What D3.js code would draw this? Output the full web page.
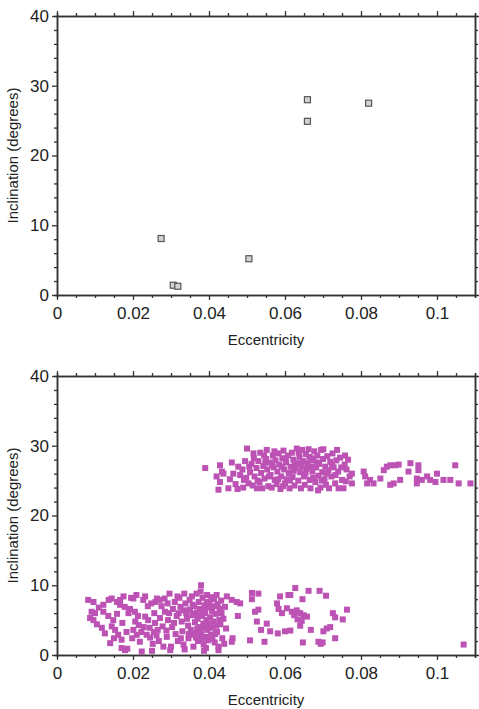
<!DOCTYPE html>
<html>
<head>
<meta charset="utf-8">
<script src="https://cdn.jsdelivr.net/npm/d3@7"></script>
<style>
  body { margin: 0; background: #fff; }
  svg { display: block; font-family: "Liberation Sans", Arial, sans-serif; }
</style>
</head>
<body>
<div id="chart"></div>
<script>
// observed objects (top panel): [eccentricity, inclination]
const observed = [
  [0.0274, 8.1], [0.0306, 1.4], [0.0318, 1.25], [0.0505, 5.2],
  [0.0659, 28.0], [0.0659, 24.9], [0.0820, 27.5]
];

// simulated population, low-inclination group
const simLow = [
  [0.0082,7.9],[0.0096,7.6],[0.0091,6.2],[0.0100,6.0],[0.0087,5.3],[0.0096,5.0],[0.0110,6.8],[0.0105,4.4],[0.0118,3.9],
  [0.0122,7.2],[0.0122,6.2],[0.0126,3.1],[0.0140,1.7],[0.0144,8.1],[0.0148,5.0],[0.0144,4.1],[0.0153,3.6],[0.0135,5.6],[0.0158,7.6],[0.0150,2.4],
  [0.0161,2.9],[0.0166,7.9],[0.0175,8.4],[0.0166,7.2],[0.0178,6.9],[0.0188,6.0],[0.0192,6.6],[0.0170,2.2],[0.0170,1.0],[0.0179,0.7],[0.0185,0.9],[0.0183,3.3],[0.0195,8.2],[0.0172,4.6],
  [0.0201,8.1],[0.0209,8.6],[0.0205,6.2],[0.0213,5.6],[0.0201,3.6],[0.0210,2.9],[0.0222,3.3],[0.0227,7.9],[0.0232,8.4],[0.0232,5.5],[0.0240,5.0],[0.0236,2.9],[0.0223,0.5],[0.0245,2.5],[0.0215,4.3],[0.0228,4.0],[0.0218,1.9],
  [0.0248,7.4],[0.0263,8.1],[0.0256,6.0],[0.0258,4.6],[0.0255,3.3],[0.0262,2.8],[0.0270,7.9],[0.0275,7.0],[0.0271,5.3],[0.0278,4.1],[0.0280,1.2],[0.0268,2.0],[0.0252,1.6],[0.0250,0.6],[0.0265,3.6],
  [0.0284,6.2],[0.0291,7.4],[0.0292,5.0],[0.0289,2.6],[0.0296,8.8],[0.0300,1.2],[0.0303,4.0],[0.0305,6.6],[0.0310,7.6],[0.0312,3.0],[0.0315,5.6],[0.0318,2.0],[0.0288,3.5],[0.0298,0.7],
  [0.0322,8.2],[0.0325,6.9],[0.0328,4.8],[0.0330,3.4],[0.0333,1.5],[0.0335,8.8],[0.0338,7.4],[0.0340,6.0],[0.0342,5.2],[0.0345,4.2],[0.0346,2.4],[0.0349,7.9],[0.0350,6.5],[0.0352,3.6],[0.0355,8.4],[0.0356,5.7],[0.0358,2.9],[0.0326,2.4],[0.0336,0.8],[0.0359,1.2],
  [0.0361,7.0],[0.0363,4.7],[0.0365,3.2],[0.0367,8.8],[0.0368,6.1],[0.0370,5.2],[0.0371,2.0],[0.0373,7.6],[0.0375,4.0],[0.0376,6.6],[0.0378,9.1],[0.0379,10.0],[0.0380,3.0],[0.0382,5.6],[0.0383,8.2],[0.0385,4.5],[0.0386,1.5],[0.0388,7.1],[0.0390,6.0],[0.0391,2.6],[0.0393,5.0],[0.0395,8.6],[0.0396,3.6],[0.0398,6.8],[0.0399,4.2],[0.0381,2.2],[0.0392,1.0],[0.0369,3.8],[0.0387,0.6],
  [0.0401,7.6],[0.0403,5.4],[0.0405,2.9],[0.0406,8.3],[0.0408,6.3],[0.0410,3.9],[0.0412,4.8],[0.0414,7.0],[0.0415,1.8],[0.0418,5.9],[0.0420,8.6],[0.0421,3.3],[0.0425,0.7],[0.0425,1.2],[0.0428,6.6],[0.0430,4.4],[0.0432,7.8],[0.0435,2.4],[0.0438,5.2],[0.0442,6.9],[0.0447,8.4],[0.0445,3.8],[0.0440,1.6],
  [0.0334,6.4],[0.0347,3.0],[0.0357,7.2],[0.0362,5.9],[0.0366,2.5],[0.0374,5.6],[0.0377,3.4],[0.0384,6.4],[0.0389,3.9],[0.0394,7.6],[0.0397,2.1],[0.0402,4.5],[0.0404,6.9],[0.0409,2.3],[0.0413,8.0],[0.0416,3.0],[0.0419,4.2],[0.0423,7.3],[0.0427,5.0],[0.0433,6.0],
  [0.0198,2.4],[0.0206,4.8],[0.0239,7.0],[0.0244,3.9],[0.0259,7.6],[0.0283,8.1],[0.0295,6.0],[0.0308,4.6],[0.0320,6.0],[0.0317,8.4],[0.0136,7.9],[0.0158,5.9],
  [0.0460,7.9],[0.0473,7.6],[0.0482,7.4],[0.0476,5.6],[0.0460,1.9],[0.0462,2.4],[0.0513,8.9],[0.0530,8.8],[0.0513,8.0],[0.0521,6.2],[0.0530,6.5],[0.0526,4.8],[0.0552,4.5],[0.0537,3.6],[0.0561,3.4],
  [0.0579,7.4],[0.0587,8.4],[0.0583,6.6],[0.0592,6.0],[0.0605,6.7],[0.0618,6.2],[0.0609,8.6],[0.0581,3.1],[0.0600,3.4],[0.0508,2.1],[0.0546,1.9],
  [0.0627,9.6],[0.0662,9.2],[0.0691,9.2],[0.0708,8.5],[0.0646,8.0],[0.0614,8.6],[0.0631,6.4],[0.0624,5.7],[0.0640,6.0],[0.0649,5.7],[0.0658,5.5],[0.0633,5.1],[0.0644,4.9],[0.0640,4.2],
  [0.0668,3.6],[0.0701,3.4],[0.0710,3.8],[0.0719,4.0],[0.0726,6.0],[0.0732,5.4],[0.0752,5.1],[0.0763,6.5],[0.0732,2.4],[0.0647,1.8],[0.0688,1.9],[0.0694,1.6],[0.0699,1.8],[0.0614,3.5],
  [0.1070,1.5]
];

// simulated population, high-inclination group
const simHigh = [
  [0.0390,26.8],[0.0429,27.2],[0.0434,26.3],[0.0420,25.6],[0.0429,24.8],[0.0425,23.7],[0.0438,26.0],[0.0451,23.9],[0.0455,25.2],[0.0464,26.0],[0.0477,27.0],[0.0470,24.5],[0.0482,25.8],[0.0460,27.6],[0.0475,23.8],
  [0.0500,29.6],[0.0517,28.9],[0.0535,29.0],[0.0552,29.4],[0.0504,24.6],[0.0526,23.9],[0.0488,26.6],[0.0495,27.8],[0.0498,25.4],[0.0508,26.2],[0.0512,27.4],[0.0515,24.3],[0.0520,25.6],[0.0525,26.8],[0.0530,27.8],[0.0533,24.8],[0.0537,26.1],[0.0540,23.9],[0.0543,27.1],[0.0546,25.3],[0.0550,28.1],[0.0553,26.6],[0.0556,24.2],[0.0490,24.0],[0.0545,28.6],
  [0.0560,27.6],[0.0562,25.8],[0.0565,24.0],[0.0568,28.6],[0.0570,26.9],[0.0573,25.1],[0.0575,27.9],[0.0578,24.5],[0.0580,26.3],[0.0583,28.9],[0.0585,27.3],[0.0588,23.8],[0.0590,25.6],[0.0593,28.2],[0.0596,29.3],[0.0598,26.6],[0.0600,24.6],[0.0603,27.6],[0.0605,25.2],[0.0608,28.6],[0.0610,26.1],[0.0612,23.9],[0.0615,27.0],[0.0618,29.0],[0.0620,25.5],[0.0622,28.0],[0.0625,24.3],[0.0628,26.8],[0.0631,29.6],[0.0633,27.5],[0.0635,25.0],[0.0638,28.4],[0.0640,26.2],[0.0642,23.9],[0.0572,29.2],[0.0595,24.2],[0.0626,27.2],
  [0.0645,29.4],[0.0647,27.8],[0.0650,25.6],[0.0652,24.4],[0.0655,28.8],[0.0657,26.7],[0.0660,27.5],[0.0662,29.5],[0.0665,25.1],[0.0667,23.9],[0.0670,28.2],[0.0672,26.3],[0.0675,27.9],[0.0677,29.2],[0.0680,24.8],[0.0682,26.9],[0.0685,28.6],[0.0688,25.7],[0.0690,27.4],[0.0693,24.0],[0.0695,29.4],[0.0698,26.2],[0.0700,28.1],[0.0701,29.5],[0.0704,25.2],[0.0706,27.0],[0.0708,24.4],[0.0711,28.5],[0.0714,26.5],[0.0716,23.9],[0.0719,27.7],[0.0668,27.0],[0.0687,23.6],
  [0.0722,25.6],[0.0725,28.9],[0.0728,26.9],[0.0732,24.6],[0.0735,27.9],[0.0737,29.4],[0.0740,26.3],[0.0741,23.9],[0.0745,28.3],[0.0750,25.1],[0.0754,23.9],[0.0757,27.3],[0.0762,26.6],[0.0766,28.0],[0.0770,25.6],[0.0776,26.0],[0.0776,24.6],[0.0760,24.9],
  [0.0492,25.1],[0.0506,27.0],[0.0518,28.2],[0.0528,25.0],[0.0548,27.6],[0.0558,25.6],[0.0566,27.2],[0.0582,25.2],[0.0592,27.0],[0.0602,28.2],[0.0613,25.0],[0.0623,26.4],[0.0636,29.0],[0.0644,27.0],[0.0654,26.0],[0.0664,28.4],[0.0674,25.4],[0.0684,27.6],[0.0697,25.0],[0.0710,26.0],[0.0724,27.3],[0.0733,25.8],[0.0748,26.9],[0.0758,28.6],
  [0.0807,26.3],[0.0811,25.6],[0.0824,25.1],[0.0816,24.6],[0.0833,24.6],[0.0851,25.3],[0.0860,26.5],[0.0868,27.0],[0.0877,27.2],[0.0890,27.2],[0.0899,27.3],[0.0886,24.6],[0.0877,24.4],[0.0903,25.1],
  [0.0925,26.3],[0.0930,27.5],[0.0951,27.2],[0.0951,26.5],[0.0947,25.3],[0.0960,25.1],[0.0947,24.6],[0.0974,25.6],[0.0982,25.1],[0.0996,24.8],[0.1000,26.0],[0.1017,25.1],[0.1035,25.1],[0.1048,27.2],[0.1057,24.6],[0.1088,24.6]
];

const xTicks = [0, 0.02, 0.04, 0.06, 0.08, 0.1];
const yTicks = [0, 10, 20, 30, 40];

const width = 479, height = 709;
const left = 57, right = 475;
const panels = [
  { top: 16, bottom: 295, kind: "obs" },
  { top: 376, bottom: 655, kind: "sim" }
];

const svg = d3.select("#chart").append("svg")
  .attr("width", width).attr("height", height);

const x = d3.scaleLinear().domain([0, 0.11]).range([left, right]);
const xMinor = d3.range(0, 0.1101, 0.005).filter(v => Math.abs(v * 50 - Math.round(v * 50)) > 1e-6);
const yMinor = d3.range(0, 41, 2).filter(v => v % 10 !== 0);
const fmt = d => d === 0 ? "0" : String(+d.toFixed(2));

function styleAxis(g) {
  g.selectAll("path.domain").attr("stroke", "#333").attr("stroke-width", 1.5);
  g.selectAll(".tick line").attr("stroke", "#333").attr("stroke-width", 1.3);
  g.selectAll("text").attr("fill", "#222").style("font-size", "17px");
}

panels.forEach(p => {
  const y = d3.scaleLinear().domain([0, 40]).range([p.bottom, p.top]);

  // minor ticks
  svg.append("g").attr("transform", `translate(0,${p.bottom})`)
    .call(d3.axisBottom(x).tickValues(xMinor).tickSize(3).tickFormat("")).call(styleAxis);
  svg.append("g").attr("transform", `translate(0,${p.top})`)
    .call(d3.axisTop(x).tickValues(xMinor).tickSize(3).tickFormat("")).call(styleAxis);
  svg.append("g").attr("transform", `translate(${left},0)`)
    .call(d3.axisLeft(y).tickValues(yMinor).tickSize(3).tickFormat("")).call(styleAxis);
  svg.append("g").attr("transform", `translate(${right},0)`)
    .call(d3.axisRight(y).tickValues(yMinor).tickSize(3).tickFormat("")).call(styleAxis);

  // major ticks
  svg.append("g").attr("transform", `translate(0,${p.bottom})`)
    .call(d3.axisBottom(x).tickValues(xTicks).tickSize(5).tickSizeOuter(0).tickPadding(7).tickFormat(fmt))
    .call(styleAxis);
  svg.append("g").attr("transform", `translate(0,${p.top})`)
    .call(d3.axisTop(x).tickValues(xTicks).tickSize(5).tickSizeOuter(0).tickFormat(""))
    .call(styleAxis);
  svg.append("g").attr("transform", `translate(${left},0)`)
    .call(d3.axisLeft(y).tickValues(yTicks).tickSize(5).tickSizeOuter(0).tickPadding(3))
    .call(styleAxis);
  svg.append("g").attr("transform", `translate(${right},0)`)
    .call(d3.axisRight(y).tickValues(yTicks).tickSize(5).tickSizeOuter(0).tickFormat(""))
    .call(styleAxis);

  // axis titles
  svg.append("text")
    .attr("x", (left + right) / 2).attr("y", p.bottom + 50)
    .attr("text-anchor", "middle")
    .style("font-size", "15px").attr("fill", "#222")
    .text("Eccentricity");
  svg.append("text")
    .attr("transform", `translate(18,${(p.top + p.bottom) / 2}) rotate(-90)`)
    .attr("text-anchor", "middle")
    .style("font-size", "15px").attr("fill", "#222")
    .text("Inclination (degrees)");

  const plot = svg.append("g");
  if (p.kind === "obs") {
    plot.selectAll("rect").data(observed).join("rect")
      .attr("x", d => x(d[0]) - 3).attr("y", d => y(d[1]) - 3)
      .attr("width", 6).attr("height", 6)
      .attr("fill", "#d4d4d4").attr("stroke", "#555").attr("stroke-width", 1.2);
  } else {
    plot.selectAll("rect").data(simLow.concat(simHigh)).join("rect")
      .attr("x", d => x(d[0]) - 3).attr("y", d => y(d[1]) - 3)
      .attr("width", 6).attr("height", 6)
      .attr("fill", "#bd52b5");
  }
});
</script>
</body>
</html>
